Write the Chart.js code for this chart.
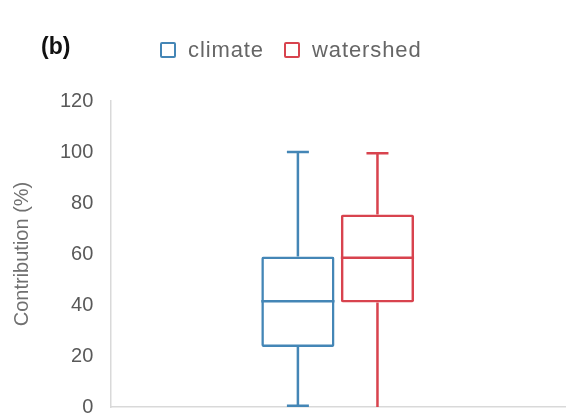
<!DOCTYPE html>
<html>
<head>
<meta charset="utf-8">
<script src="https://cdn.jsdelivr.net/npm/chart.js@4.4.1/dist/chart.umd.min.js"></script>
<style>
  html, body { margin: 0; padding: 0; background: #fff; overflow: hidden; }
  #wrap { position: relative; width: 570px; height: 416px; overflow: hidden; }
  #panel { position: absolute; left: 41px; top: 33px; font: bold 23px "Liberation Sans", Arial, sans-serif; color: #111; }
  #legend { position: absolute; left: 160px; top: 37px; font: 22px "Liberation Sans", Arial, sans-serif; letter-spacing: 0.9px; color: #666; display: flex; align-items: center; }
  #legend span.box { display: inline-block; width: 12px; height: 12px; border: 2px solid; border-radius: 2px; margin-right: 12px; }
  #legend span.lbl { margin-right: 20px; }
  canvas { position: absolute; left: 0; top: 0; }
</style>
</head>
<body>
<div id="wrap">
  <canvas id="chart" width="570" height="428"></canvas>
  <div id="panel">(b)</div>
  <div id="legend"></div>
</div>
<script>
// data
const categories = [''];
const seriesNames = ['climate', 'watershed'];
const seriesColors = ['#4486b6', '#d8434e'];
const mins = [0.5, 0];
const q1s = [23.5, 41];
const medians = [41.5, 58.5];
const q3s = [59, 75.5];
const maxs = [100, 99.5];
const yTicks = [0, 20, 40, 60, 80, 100, 120];

// html legend
const legend = document.getElementById('legend');
seriesNames.forEach((name, i) => {
  const b = document.createElement('span');
  b.className = 'box';
  b.style.borderColor = seriesColors[i];
  const t = document.createElement('span');
  t.className = 'lbl';
  t.textContent = name;
  legend.appendChild(b);
  legend.appendChild(t);
});

// whiskers + median on top of the floating bars
const boxPlugin = {
  id: 'boxWhiskers',
  afterDatasetsDraw(chart) {
    const ctx = chart.ctx;
    const y = chart.scales.y;
    chart.data.datasets.forEach((ds, i) => {
      const meta = chart.getDatasetMeta(i);
      meta.data.forEach((bar) => {
        const x = bar.x;
        const half = bar.width / 2;
        const cap = 11;
        ctx.save();
        ctx.strokeStyle = seriesColors[i];
        ctx.lineWidth = 2.5;
        ctx.beginPath();
        // median
        ctx.moveTo(x - half, y.getPixelForValue(medians[i]));
        ctx.lineTo(x + half, y.getPixelForValue(medians[i]));
        // upper whisker
        ctx.moveTo(x, y.getPixelForValue(q3s[i]));
        ctx.lineTo(x, y.getPixelForValue(maxs[i]));
        ctx.moveTo(x - cap, y.getPixelForValue(maxs[i]));
        ctx.lineTo(x + cap, y.getPixelForValue(maxs[i]));
        // lower whisker
        ctx.moveTo(x, y.getPixelForValue(q1s[i]));
        ctx.lineTo(x, y.getPixelForValue(mins[i]));
        if (mins[i] > 0) {
          ctx.moveTo(x - cap, y.getPixelForValue(mins[i]));
          ctx.lineTo(x + cap, y.getPixelForValue(mins[i]));
        }
        ctx.stroke();
        ctx.restore();
      });
    });
  }
};

const datasets = seriesNames.map((name, i) => ({
  label: name,
  data: [[q1s[i], q3s[i]]],
  backgroundColor: 'rgba(255,255,255,0)',
  borderColor: seriesColors[i],
  borderWidth: 2.5,
  borderSkipped: false,
  borderRadius: 2,
  barPercentage: 0.92,
  categoryPercentage: 0.35
}));

new Chart(document.getElementById('chart').getContext('2d'), {
  type: 'bar',
  data: { labels: categories, datasets: datasets },
  plugins: [boxPlugin],
  options: {
    responsive: false,
    animation: false,
    layout: { padding: { top: 101, right: 5, bottom: 2, left: 10 } },
    plugins: {
      legend: { display: false },
      tooltip: { enabled: false }
    },
    scales: {
      x: {
        grid: { display: false },
        ticks: { display: false },
        border: { display: true, color: '#d9d9d9', width: 1.5 }
      },
      y: {
        min: 0,
        max: 120,
        afterBuildTicks: (axis) => { axis.ticks = yTicks.map(v => ({ value: v })); },
        grid: { display: false },
        border: { display: true, color: '#d9d9d9', width: 1.5 },
        ticks: {
          color: '#595959',
          padding: 9,
          font: { family: 'Liberation Sans', size: 20 }
        },
        title: {
          display: true,
          text: 'Contribution (%)',
          color: '#707070',
          padding: { top: 0, bottom: 17 },
          font: { family: 'Liberation Sans', size: 20 }
        }
      }
    }
  }
});
</script>
</body>
</html>
